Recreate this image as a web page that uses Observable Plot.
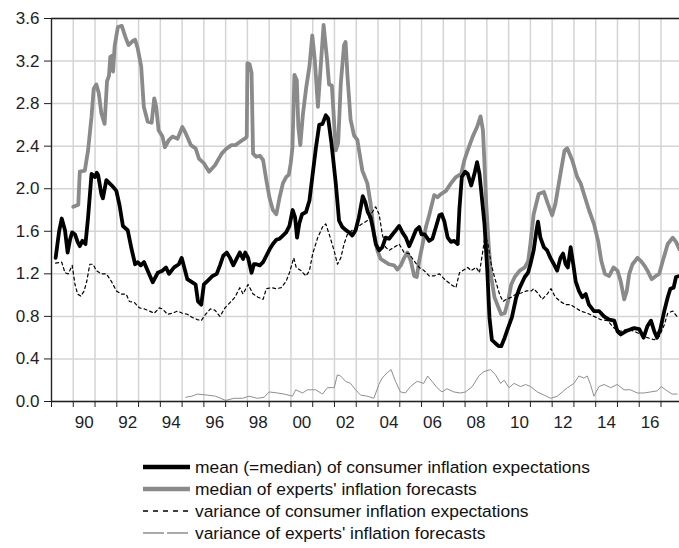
<!DOCTYPE html>
<html><head><meta charset="utf-8">
<script src="https://cdn.jsdelivr.net/npm/d3@7"></script>
<script src="https://cdn.jsdelivr.net/npm/@observablehq/plot@0.6"></script>
<style>
body{margin:0;background:#fff;font-family:"Liberation Sans",Arial,sans-serif;}
#legend{margin-top:15px;margin-left:143px;font-size:17.4px;color:#111;}
.row{display:flex;align-items:center;height:22px;white-space:nowrap;}
.row svg{margin-right:5px;flex:none}
</style></head><body>
<div id="chart"></div>
<div id="legend"></div>
<script>
// [year, value]
const consumerMean = [
[1989.19,1.35],[1989.35,1.60],[1989.47,1.72],[1989.62,1.61],[1989.74,1.40],[1989.85,1.52],[1989.95,1.59],
[1990.08,1.57],[1990.20,1.50],[1990.30,1.46],[1990.42,1.51],[1990.56,1.48],[1990.68,1.73],[1990.84,2.14],
[1991.00,2.11],[1991.08,2.15],[1991.14,2.13],[1991.29,1.95],[1991.36,1.91],[1991.52,2.08],[1991.67,2.05],
[1991.82,2.02],[1991.98,1.98],[1992.13,1.84],[1992.28,1.65],[1992.50,1.61],[1992.66,1.45],[1992.84,1.29],
[1992.96,1.31],[1993.10,1.28],[1993.25,1.31],[1993.42,1.23],[1993.65,1.12],[1993.88,1.21],[1994.10,1.23],
[1994.26,1.26],[1994.40,1.20],[1994.63,1.26],[1994.85,1.29],[1994.98,1.35],[1995.10,1.26],[1995.24,1.15],
[1995.47,1.12],[1995.62,1.10],[1995.73,0.94],[1995.88,0.91],[1996.00,1.10],[1996.15,1.13],[1996.40,1.18],
[1996.59,1.20],[1996.74,1.28],[1996.89,1.37],[1997.05,1.40],[1997.20,1.35],[1997.35,1.28],[1997.50,1.34],
[1997.65,1.40],[1997.80,1.34],[1997.90,1.40],[1998.03,1.35],[1998.19,1.21],[1998.30,1.29],[1998.41,1.29],
[1998.57,1.28],[1998.72,1.31],[1998.87,1.37],[1999.02,1.43],[1999.17,1.48],[1999.33,1.52],[1999.48,1.53],
[1999.63,1.56],[1999.78,1.59],[1999.93,1.65],[2000.08,1.80],[2000.19,1.73],[2000.28,1.54],[2000.38,1.67],
[2000.51,1.76],[2000.69,1.78],[2000.85,1.89],[2001.00,2.14],[2001.15,2.39],[2001.30,2.60],[2001.45,2.61],
[2001.60,2.69],[2001.71,2.66],[2001.86,2.43],[2002.06,2.05],[2002.21,1.70],[2002.36,1.64],[2002.52,1.61],
[2002.67,1.59],[2002.82,1.56],[2002.97,1.61],[2003.12,1.73],[2003.30,1.93],[2003.42,1.87],[2003.53,1.78],
[2003.66,1.73],[2003.78,1.61],[2003.90,1.48],[2004.05,1.42],[2004.20,1.45],[2004.35,1.54],[2004.51,1.53],
[2004.66,1.57],[2004.82,1.61],[2004.97,1.65],[2005.12,1.59],[2005.28,1.54],[2005.43,1.46],[2005.58,1.53],
[2005.74,1.61],[2005.89,1.64],[2006.00,1.57],[2006.15,1.57],[2006.35,1.51],[2006.50,1.53],[2006.66,1.64],
[2006.82,1.75],[2006.93,1.76],[2007.05,1.69],[2007.20,1.54],[2007.35,1.50],[2007.50,1.51],[2007.66,1.48],
[2007.74,1.81],[2007.85,2.11],[2008.00,2.16],[2008.12,2.14],[2008.28,2.03],[2008.43,2.14],[2008.55,2.25],
[2008.66,2.14],[2008.74,1.98],[2008.89,1.67],[2009.02,1.23],[2009.12,0.79],[2009.23,0.58],[2009.38,0.55],
[2009.54,0.52],[2009.66,0.52],[2009.82,0.60],[2009.97,0.69],[2010.15,0.79],[2010.35,0.98],[2010.51,1.07],
[2010.74,1.17],[2010.89,1.21],[2011.00,1.29],[2011.15,1.42],[2011.28,1.61],[2011.35,1.69],[2011.46,1.54],
[2011.62,1.45],[2011.77,1.42],[2011.92,1.35],[2012.08,1.29],[2012.23,1.23],[2012.38,1.35],[2012.50,1.39],
[2012.62,1.29],[2012.72,1.26],[2012.85,1.45],[2012.97,1.29],[2013.08,1.13],[2013.23,1.04],[2013.38,0.98],
[2013.54,1.01],[2013.69,0.91],[2013.92,0.85],[2014.15,0.85],[2014.38,0.80],[2014.62,0.77],[2014.85,0.76],
[2015.00,0.66],[2015.15,0.63],[2015.38,0.66],[2015.62,0.68],[2015.77,0.69],[2016.00,0.68],[2016.20,0.60],
[2016.38,0.71],[2016.54,0.76],[2016.69,0.66],[2016.82,0.60],[2016.97,0.68],[2017.15,0.85],[2017.31,0.98],
[2017.43,1.06],[2017.58,1.07],[2017.69,1.17],[2017.85,1.18]
];
const expertsMedian = [
[1990.00,1.83],[1990.23,1.85],[1990.30,2.16],[1990.53,2.17],[1990.68,2.36],[1990.84,2.68],[1990.94,2.94],
[1991.06,2.98],[1991.17,2.90],[1991.29,2.71],[1991.44,2.61],[1991.55,3.01],[1991.64,3.06],[1991.70,3.24],
[1991.79,3.25],[1991.83,3.10],[1991.90,3.34],[1992.05,3.52],[1992.23,3.53],[1992.39,3.43],[1992.54,3.35],
[1992.74,3.39],[1992.84,3.40],[1992.96,3.32],[1993.12,3.15],[1993.24,2.77],[1993.42,2.63],[1993.60,2.62],
[1993.72,2.85],[1993.81,2.77],[1993.92,2.55],[1994.10,2.49],[1994.21,2.39],[1994.40,2.46],[1994.56,2.49],
[1994.79,2.47],[1995.01,2.58],[1995.17,2.52],[1995.40,2.41],[1995.62,2.38],[1995.78,2.28],[1996.00,2.24],
[1996.24,2.16],[1996.51,2.22],[1996.82,2.33],[1997.05,2.38],[1997.27,2.41],[1997.45,2.41],[1997.65,2.44],
[1997.88,2.47],[1997.97,2.49],[1998.00,3.18],[1998.10,3.17],[1998.19,3.09],[1998.26,2.33],[1998.41,2.30],
[1998.57,2.31],[1998.72,2.27],[1998.87,2.08],[1999.02,1.91],[1999.17,1.80],[1999.33,1.76],[1999.48,1.92],
[1999.63,2.05],[1999.78,2.11],[1999.90,2.13],[1999.99,2.24],[2000.07,2.39],[2000.16,3.07],[2000.27,3.02],
[2000.34,2.58],[2000.43,2.41],[2000.55,2.70],[2000.70,2.95],[2000.85,3.15],[2000.98,3.44],[2001.10,3.20],
[2001.24,2.77],[2001.35,3.10],[2001.50,3.54],[2001.66,3.21],[2001.75,2.98],[2001.88,2.97],[2002.06,2.36],
[2002.17,2.43],[2002.29,2.99],[2002.44,3.35],[2002.51,3.38],[2002.60,3.05],[2002.74,2.65],[2002.90,2.50],
[2003.05,2.46],[2003.28,2.17],[2003.51,2.05],[2003.66,1.86],[2003.82,1.57],[2003.97,1.42],[2004.12,1.34],
[2004.35,1.31],[2004.51,1.29],[2004.74,1.28],[2004.89,1.24],[2005.05,1.28],[2005.20,1.35],[2005.35,1.40],
[2005.51,1.32],[2005.66,1.18],[2005.78,1.17],[2005.89,1.32],[2006.05,1.48],[2006.20,1.64],[2006.35,1.75],
[2006.58,1.94],[2006.73,1.92],[2006.89,1.95],[2007.12,1.98],[2007.35,2.05],[2007.58,2.11],[2007.82,2.14],
[2007.97,2.27],[2008.12,2.36],[2008.35,2.49],[2008.55,2.58],[2008.71,2.68],[2008.82,2.55],[2008.89,2.24],
[2008.97,1.86],[2009.08,1.48],[2009.20,1.17],[2009.35,0.98],[2009.54,0.88],[2009.66,0.82],[2009.82,0.83],
[2009.97,0.94],[2010.12,1.10],[2010.28,1.17],[2010.51,1.23],[2010.74,1.26],[2010.90,1.32],[2011.00,1.48],
[2011.15,1.76],[2011.38,1.95],[2011.62,1.97],[2011.80,1.86],[2012.00,1.75],[2012.15,1.86],[2012.38,2.14],
[2012.57,2.36],[2012.69,2.38],[2012.92,2.27],[2013.15,2.11],[2013.31,2.05],[2013.46,1.95],[2013.69,1.80],
[2013.92,1.67],[2014.11,1.51],[2014.26,1.32],[2014.42,1.20],[2014.62,1.18],[2014.82,1.26],[2015.00,1.23],
[2015.15,1.13],[2015.31,0.96],[2015.43,1.04],[2015.54,1.20],[2015.69,1.29],[2015.92,1.35],[2016.08,1.32],
[2016.23,1.28],[2016.38,1.23],[2016.57,1.15],[2016.77,1.18],[2016.92,1.20],[2017.08,1.32],[2017.31,1.48],
[2017.54,1.54],[2017.69,1.50],[2017.85,1.43]
];
const consumerVariance = [
[1989.19,1.30],[1989.47,1.31],[1989.62,1.21],[1989.77,1.20],[1989.95,1.28],[1990.08,1.10],[1990.20,1.01],
[1990.35,0.99],[1990.50,1.04],[1990.62,1.13],[1990.76,1.29],[1990.91,1.29],[1991.06,1.23],[1991.29,1.20],
[1991.52,1.20],[1991.75,1.13],[1991.98,1.04],[1992.20,1.01],[1992.43,1.01],[1992.58,0.94],[1992.81,0.93],
[1993.04,0.88],[1993.27,0.87],[1993.50,0.85],[1993.72,0.83],[1993.95,0.88],[1994.10,0.87],[1994.33,0.82],
[1994.56,0.83],[1994.79,0.85],[1995.01,0.83],[1995.24,0.82],[1995.47,0.79],[1995.70,0.77],[1995.88,0.76],
[1996.08,0.82],[1996.30,0.87],[1996.50,0.86],[1996.74,0.80],[1996.97,0.88],[1997.20,0.93],[1997.43,0.98],
[1997.65,1.07],[1997.80,1.01],[1998.03,1.10],[1998.26,1.01],[1998.49,0.98],[1998.72,0.96],[1998.87,1.06],
[1999.10,1.07],[1999.33,1.06],[1999.55,1.07],[1999.78,1.13],[1999.93,1.21],[2000.13,1.35],[2000.24,1.26],
[2000.46,1.23],[2000.69,1.18],[2000.85,1.23],[2001.00,1.39],[2001.23,1.54],[2001.45,1.64],[2001.60,1.67],
[2001.76,1.57],[2001.98,1.42],[2002.14,1.29],[2002.29,1.35],[2002.44,1.48],[2002.59,1.57],[2002.82,1.61],
[2003.05,1.64],[2003.27,1.67],[2003.50,1.70],[2003.89,1.83],[2004.05,1.76],[2004.20,1.57],[2004.35,1.45],
[2004.51,1.42],[2004.74,1.45],[2004.97,1.48],[2005.20,1.40],[2005.43,1.39],[2005.66,1.32],[2005.89,1.26],
[2006.12,1.23],[2006.35,1.18],[2006.58,1.18],[2006.82,1.20],[2007.05,1.15],[2007.35,1.10],[2007.58,1.07],
[2007.74,1.21],[2007.97,1.24],[2008.12,1.26],[2008.28,1.23],[2008.51,1.26],[2008.66,1.21],[2008.82,1.42],
[2008.92,1.57],[2009.05,1.48],[2009.20,1.29],[2009.35,1.17],[2009.58,1.01],[2009.74,0.94],[2009.89,0.96],
[2010.12,0.98],[2010.35,1.01],[2010.58,1.02],[2010.82,1.04],[2011.05,1.04],[2011.15,1.06],[2011.38,1.01],
[2011.54,0.96],[2011.77,1.01],[2011.95,1.06],[2012.15,0.98],[2012.38,0.94],[2012.62,0.91],[2012.85,0.91],
[2013.08,0.88],[2013.31,0.85],[2013.62,0.83],[2013.92,0.80],[2014.23,0.77],[2014.54,0.76],[2014.85,0.69],
[2015.15,0.66],[2015.46,0.68],[2015.77,0.66],[2016.08,0.63],[2016.38,0.60],[2016.69,0.58],[2016.92,0.61],
[2017.15,0.72],[2017.31,0.83],[2017.54,0.85],[2017.77,0.79]
];
const expertsVariance = [
[1995.17,0.04],[1995.45,0.05],[1995.70,0.07],[1996.16,0.06],[1996.54,0.05],[1997.00,0.01],[1997.38,0.03],
[1997.77,0.03],[1998.08,0.05],[1998.46,0.03],[1998.77,0.04],[1999.00,0.09],[1999.38,0.08],[1999.69,0.07],
[2000.07,0.05],[2000.22,0.11],[2000.53,0.08],[2000.76,0.11],[2001.14,0.11],[2001.45,0.07],[2001.68,0.13],
[2001.99,0.13],[2002.13,0.25],[2002.28,0.24],[2002.51,0.19],[2002.74,0.17],[2002.97,0.11],[2003.20,0.06],
[2003.50,0.05],[2003.81,0.03],[2004.04,0.16],[2004.19,0.22],[2004.42,0.27],[2004.60,0.30],[2004.80,0.19],
[2005.03,0.09],[2005.26,0.08],[2005.49,0.14],[2005.80,0.19],[2006.10,0.17],[2006.28,0.24],[2006.48,0.19],
[2006.71,0.13],[2006.94,0.09],[2007.17,0.12],[2007.48,0.09],[2007.79,0.08],[2008.02,0.09],[2008.33,0.14],
[2008.63,0.24],[2008.86,0.28],[2009.17,0.30],[2009.40,0.25],[2009.63,0.17],[2009.79,0.20],[2010.02,0.13],
[2010.25,0.17],[2010.55,0.14],[2010.78,0.16],[2011.01,0.14],[2011.32,0.09],[2011.63,0.06],[2011.93,0.03],
[2012.24,0.05],[2012.47,0.09],[2012.70,0.13],[2013.00,0.17],[2013.23,0.24],[2013.46,0.22],[2013.61,0.24],
[2013.76,0.16],[2013.92,0.05],[2014.15,0.14],[2014.38,0.16],[2014.69,0.13],[2014.99,0.16],[2015.30,0.11],
[2015.60,0.11],[2015.91,0.08],[2016.22,0.08],[2016.52,0.09],[2016.83,0.10],[2017.01,0.14],[2017.21,0.11],
[2017.51,0.07],[2017.74,0.07]
];
const seriesNames = [
  "mean (=median) of consumer inflation expectations",
  "median of experts' inflation forecasts",
  "variance of consumer inflation expectations",
  "variance of experts' inflation forecasts"
];
const yTicks = [0, 0.4, 0.8, 1.2, 1.6, 2.0, 2.4, 2.8, 3.2, 3.6];
const xYears = d3.range(1989, 2018);
const xLabelYears = d3.range(1990, 2017, 2);

const styles = [
  {stroke: "#000", strokeWidth: 3.8},
  {stroke: "#8a8a8a", strokeWidth: 3.8},
  {stroke: "#000", strokeWidth: 1.2, strokeDasharray: "3,3"},
  {stroke: "#8f8f8f", strokeWidth: 1}
];

const X = d => d[0], Y = d => d[1];
const chart = Plot.plot({
  width: 679, height: 441,
  marginLeft: 51, marginRight: 0, marginTop: 18, marginBottom: 40,
  style: {fontFamily: '"Liberation Sans", Arial, sans-serif', color: "#1e1e28", background: "#fff"},
  x: {domain: [1989, 2017.85]},
  y: {domain: [0, 3.6]},
  marks: [
    Plot.gridX(xYears, {stroke: "#d4d4d4", strokeOpacity: 1, strokeWidth: 1.5}),
    Plot.gridY(yTicks, {stroke: "#d4d4d4", strokeOpacity: 1, strokeWidth: 1.5}),
    Plot.line(expertsVariance, {x: X, y: Y, ...styles[3]}),
    Plot.line(expertsMedian, {x: X, y: Y, ...styles[1], strokeLinejoin: "round"}),
    Plot.line(consumerMean, {x: X, y: Y, ...styles[0], strokeLinejoin: "round"}),
    Plot.line(consumerVariance, {x: X, y: Y, ...styles[2]}),
    Plot.ruleY([3.6], {stroke: "#222", strokeWidth: 1.3}),
    Plot.ruleY([0], {stroke: "#222", strokeWidth: 1.3}),
    Plot.ruleX([1989], {stroke: "#222", strokeWidth: 1.3}),
    Plot.axisY(yTicks, {tickFormat: d => d.toFixed(1), tickSize: 7, tickPadding: 5, fontSize: 17, label: null}),
    Plot.axisX(xYears, {tickFormat: () => "", tickSize: 6, label: null}),
    Plot.axisX(xLabelYears.map(y => y + 0.5), {tickSize: 0, tickPadding: 14, fontSize: 17, label: null,
      tickFormat: d => String(Math.floor(d) % 100).padStart(2, "0")})
  ]
});
document.getElementById("chart").append(chart);

const legend = document.getElementById("legend");
seriesNames.forEach((name, i) => {
  const row = document.createElement("div");
  row.className = "row";
  const s = styles[i];
  const dash = i === 3 ? "21,3" : (s.strokeDasharray || "");
  row.innerHTML = `<svg width="47" height="10"><line x1="0" y1="5" x2="47" y2="5" stroke="${s.stroke}" stroke-width="${i < 2 ? 4.5 : 1.3}" ${dash ? `stroke-dasharray="${i===2 ? "5,5" : dash}"` : ""}/></svg><span>${name}</span>`;
  legend.append(row);
});
</script>
</body></html>
